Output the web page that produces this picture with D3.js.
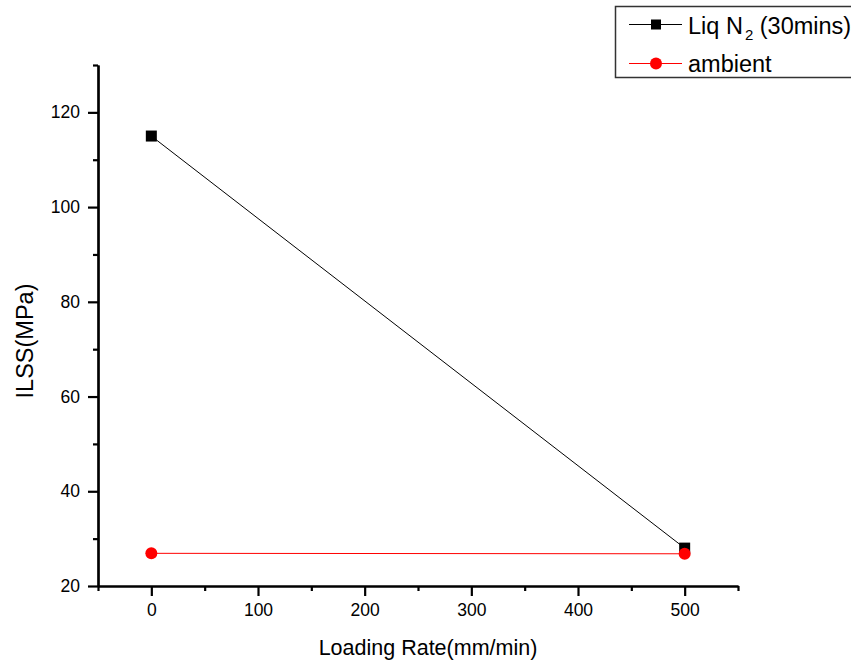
<!DOCTYPE html>
<html>
<head>
<meta charset="utf-8">
<script src="https://d3js.org/d3.v7.min.js"></script>
<style>
  body { margin: 0; background: #fff; }
  svg { font-family: "Liberation Sans", Arial, sans-serif; }
  .axis path, .axis line { stroke: #000; stroke-width: 2.2px; }
  .axis text { font-size: 17.5px; fill: #000; }
</style>
</head>
<body>
<svg width="851" height="664"></svg>
<script>
// Data
var rates = [0, 500];
var liqN2 = [115, 28];
var ambient = [26.9, 26.8];
var seriesNames = ["Liq N", "ambient"];
var xTicks = [0, 100, 200, 300, 400, 500];
var xMinor = [-50, 50, 150, 250, 350, 450, 550];
var yTicks = [20, 40, 60, 80, 100, 120];
var yMinor = [30, 50, 70, 90, 110, 130];

var svg = d3.select("svg");

var x = d3.scaleLinear().domain([-50, 550]).range([98, 738]);
var y = d3.scaleLinear().domain([20, 130]).range([586, 65]);

// minor ticks
svg.append("g")
    .attr("class", "axis")
    .attr("transform", "translate(0,586)")
    .call(d3.axisBottom(x).tickValues(xMinor).tickSize(5).tickSizeOuter(0).tickFormat(""));
svg.append("g")
    .attr("class", "axis")
    .attr("transform", "translate(98,0)")
    .call(d3.axisLeft(y).tickValues(yMinor).tickSize(5).tickSizeOuter(0).tickFormat(""));

// major ticks
svg.append("g")
    .attr("class", "axis")
    .attr("transform", "translate(0,586)")
    .call(d3.axisBottom(x).tickValues(xTicks).tickSize(10).tickSizeOuter(0).tickPadding(8));
svg.append("g")
    .attr("class", "axis")
    .attr("transform", "translate(98,0)")
    .call(d3.axisLeft(y).tickValues(yTicks).tickSize(10).tickSizeOuter(0).tickPadding(8));

// axis titles
svg.append("text")
    .attr("x", 428).attr("y", 655)
    .attr("text-anchor", "middle")
    .style("font-size", "21.5px")
    .text("Loading Rate(mm/min)");
svg.append("text")
    .attr("transform", "translate(33,341) rotate(-90)")
    .attr("text-anchor", "middle")
    .style("font-size", "23.5px")
    .text("ILSS(MPa)");

var line = d3.line().x(function (d) { return x(d[0]); }).y(function (d) { return y(d[1]); });

// Liq N2 series
var liqPts = rates.map(function (r, i) { return [r, liqN2[i]]; });
svg.append("path")
    .datum(liqPts)
    .attr("fill", "none")
    .attr("stroke", "#000")
    .attr("stroke-width", 1)
    .attr("d", line);
svg.selectAll(".sq")
    .data(liqPts)
    .enter().append("rect")
    .attr("class", "sq")
    .attr("x", function (d) { return x(d[0]) - 5.5; })
    .attr("y", function (d) { return y(d[1]) - 5.5; })
    .attr("width", 11).attr("height", 11)
    .attr("fill", "#000");

// ambient series
var ambPts = rates.map(function (r, i) { return [r, ambient[i]]; });
svg.append("path")
    .datum(ambPts)
    .attr("fill", "none")
    .attr("stroke", "#ff0000")
    .attr("stroke-width", 1)
    .attr("d", line);
svg.selectAll(".dot")
    .data(ambPts)
    .enter().append("circle")
    .attr("class", "dot")
    .attr("cx", function (d) { return x(d[0]); })
    .attr("cy", function (d) { return y(d[1]); })
    .attr("r", 6)
    .attr("fill", "#ff0000");

// Legend
var lg = svg.append("g");
lg.append("rect")
    .attr("x", 615.5).attr("y", 6.5)
    .attr("width", 250).attr("height", 71)
    .attr("fill", "#fff")
    .attr("stroke", "#333").attr("stroke-width", 1.5);

lg.append("line").attr("x1", 629).attr("x2", 682).attr("y1", 24.5).attr("y2", 24.5)
    .attr("stroke", "#000").attr("stroke-width", 1);
lg.append("rect").attr("x", 651).attr("y", 19.5).attr("width", 10).attr("height", 10).attr("fill", "#000");
var t1 = lg.append("text").attr("x", 688).attr("y", 34).style("font-size", "23.5px");
t1.append("tspan").text(seriesNames[0]);
t1.append("tspan").attr("dx", 2).attr("dy", 6).style("font-size", "15px").text("2");
t1.append("tspan").attr("dy", -6).text(" (30mins)");

lg.append("line").attr("x1", 629).attr("x2", 682).attr("y1", 63.5).attr("y2", 63.5)
    .attr("stroke", "#ff0000").attr("stroke-width", 1);
lg.append("circle").attr("cx", 656).attr("cy", 63.5).attr("r", 6).attr("fill", "#ff0000");
lg.append("text").attr("x", 688).attr("y", 72).style("font-size", "23.5px").text(seriesNames[1]);
</script>
</body>
</html>
